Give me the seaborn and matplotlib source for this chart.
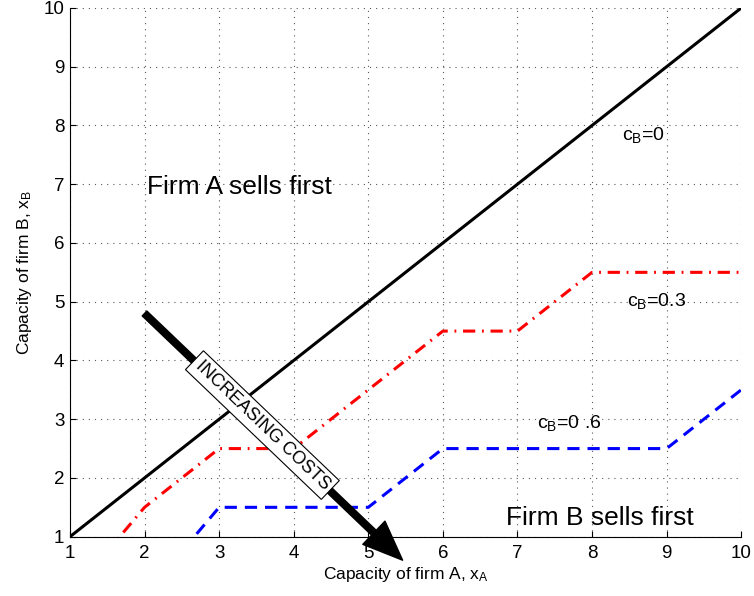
import matplotlib
matplotlib.use("Agg")
import matplotlib.pyplot as plt
import seaborn as sns

# ---- data ----
x_c0 = [1, 10]
y_c0 = [1, 10]
x_c03 = [1, 2, 3, 4, 6, 7, 8, 10]
y_c03 = [0, 1.5, 2.5, 2.5, 4.5, 4.5, 5.5, 5.5]
x_c06 = [2, 3, 5, 6, 9, 10]
y_c06 = [0, 1.5, 1.5, 2.5, 2.5, 3.5]
ticks = [1, 2, 3, 4, 5, 6, 7, 8, 9, 10]

sns.set_style("ticks")
plt.rcParams['font.family'] = ['Liberation Sans', 'DejaVu Sans']
plt.rcParams['mathtext.default'] = 'regular'
plt.rcParams['text.color'] = 'black'
plt.rcParams['axes.labelcolor'] = 'black'
plt.rcParams['xtick.color'] = 'black'
plt.rcParams['ytick.color'] = 'black'

fig = plt.figure(figsize=(7.54, 5.96), dpi=100)
ax = fig.add_axes([0.0928, 0.0995, 0.8902, 0.8871])

sns.lineplot(x=x_c0, y=y_c0, ax=ax, color='black', lw=2.2, sort=False, estimator=None)
sns.lineplot(x=x_c03, y=y_c03, ax=ax, color='red', lw=2.2, sort=False, estimator=None)
ax.lines[-1].set_dashes((4, 2.2, 0.6, 2.2))
sns.lineplot(x=x_c06, y=y_c06, ax=ax, color='blue', lw=2.2, sort=False, estimator=None)
ax.lines[-1].set_dashes((4, 2.6))

ax.set_xlim(1, 10)
ax.set_ylim(1, 10)
ax.set_xticks(ticks)
ax.set_yticks(ticks)
ax.tick_params(direction='in', length=4, labelsize=13.5, color='black', labelcolor='black')
ax.tick_params(axis='x', pad=6)
ax.tick_params(axis='y', pad=4)
ax.grid(True, color='0.35', linestyle=(0, (1, 4.5)), lw=0.8)
for s in ['top', 'right']:
    ax.spines[s].set_visible(False)
for s in ['left', 'bottom']:
    ax.spines[s].set_color('black')
    ax.spines[s].set_linewidth(0.8)

ax.set_xlabel('Capacity of firm A, $x_A$', fontsize=12.5, labelpad=2)
ax.set_ylabel('Capacity of firm B, $x_B$', fontsize=12.5, labelpad=7)

ax.text(2.03, 6.95, 'Firm A sells first', fontsize=19, va='center', ha='left')
ax.text(6.84, 1.32, 'Firm B sells first', fontsize=19, va='center', ha='left')
ax.text(8.4, 7.83, '$c_B$=0', fontsize=14, va='center', ha='left')
ax.text(8.47, 5.02, '$c_B$=0.3', fontsize=14, va='center', ha='left')
ax.text(7.26, 2.94, '$c_B$=0 .6', fontsize=14, va='center', ha='left')

ax.annotate('', xy=(5.46, 0.6), xytext=(2.0, 4.8), annotation_clip=False,
            arrowprops=dict(arrowstyle='simple,head_length=1.3,head_width=1.05,tail_width=0.22',
                            mutation_scale=22, color='black', shrinkA=0, shrinkB=0))
ax.text(3.58, 2.9, 'INCREASING COSTS', fontsize=13, rotation=-43.7,
        rotation_mode='anchor', ha='center', va='center',
        bbox=dict(boxstyle='square,pad=0.25', fc='white', ec='black', lw=0.8))

fig.savefig('out.png', dpi=100)
